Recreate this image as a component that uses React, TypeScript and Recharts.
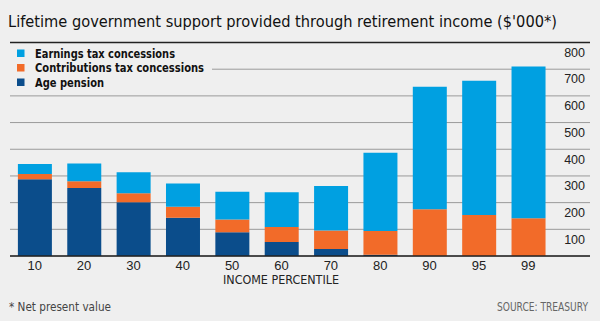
import React from "react";
import { BarChart, Bar, XAxis, YAxis, CartesianGrid, ReferenceLine } from "recharts";

const percentiles = ["10", "20", "30", "40", "50", "60", "70", "80", "90", "95", "99"];
const agePension = [288, 255, 201, 143, 89, 52, 26, 5, 0, 0, 0];
const contributionsTax = [19, 25, 34, 42, 48, 57, 70, 89, 175, 154, 141];
const earningsTax = [38, 67, 79, 87, 104, 130, 166, 293, 459, 503, 569];
const yTicks = [100, 200, 300, 400, 500, 600, 700, 800];

const series = [
  { key: "earnings", name: "Earnings tax concessions", color: "#00a0e1", w: 140 },
  { key: "contributions", name: "Contributions tax concessions", color: "#f26b29", w: 169 },
  { key: "age", name: "Age pension", color: "#0b4d8b", w: 69 },
];

const data = percentiles.map((p, i) => ({
  p,
  age: agePension[i],
  contributions: contributionsTax[i],
  earnings: earningsTax[i],
}));

const BG = "#efefef";
const FONT = "'DejaVu Sans Condensed', 'Liberation Sans', Arial, sans-serif";
const TICKFONT = "'Liberation Sans', Arial, sans-serif";

const YTick = (props: any) => {
  const { x, y, payload } = props;
  return (
    <text x={x} y={y + 11} textAnchor="end" dominantBaseline="middle" fontSize={12.5} fill="#222" fontFamily={TICKFONT}>
      {payload.value}
    </text>
  );
};

export default function App() {
  const stackOrder = ["age", "contributions", "earnings"];
  return (
    <div style={{ position: "absolute", left: 0, top: 0, width: 600, height: 321, background: BG, overflow: "hidden" }}>
      <BarChart
        width={600}
        height={321}
        data={data}
        margin={{ top: 42.5, right: 10, left: 10, bottom: 35 }}
        barCategoryGap="16%"
        style={{ position: "absolute", left: 0, top: 0 }}
      >
        <CartesianGrid horizontal vertical={false} stroke="#9a9a9a" strokeWidth={1} />
        <XAxis
          dataKey="p"
          height={30}
          padding={{ left: 0, right: 37 }}
          tickLine={false}
          tickSize={0}
          tickMargin={5}
          axisLine={{ stroke: "#222", strokeWidth: 1.5 }}
          tick={{ fontSize: 13, fill: "#222", fontFamily: TICKFONT }}
          interval={0}
        />
        <YAxis
          orientation="right"
          mirror
          width={40}
          domain={[0, 800]}
          ticks={yTicks}
          tickLine={false}
          tickSize={0}
          tickMargin={5}
          axisLine={false}
          tick={(p: any) => <YTick {...p} />}
        />
        <ReferenceLine y={800} stroke="#222" strokeWidth={1.5} />
        {stackOrder.map((k) => {
          const s = series.find((x) => x.key === k)!;
          return <Bar key={k} dataKey={k} name={s.name} stackId="a" fill={s.color} isAnimationActive={false} />;
        })}
      </BarChart>
      <svg width={600} height={321} style={{ position: "absolute", left: 0, top: 0 }}>
        <text x={8} y={27} fontSize={16.5} fill="#111" fontFamily={FONT} textLength={549} lengthAdjust="spacingAndGlyphs">
          Lifetime government support provided through retirement income ($'000*)
        </text>
        <rect x={10} y={44} width={202} height={50} fill={BG} />
        {series.map((s, i) => (
          <g key={s.key}>
            <rect x={17} y={49.5 + i * 14.5} width={7.5} height={7.5} fill={s.color} />
            <text x={35} y={57.5 + i * 14.5} fontSize={12.5} fontWeight={700} fill="#111" fontFamily={FONT} textLength={s.w} lengthAdjust="spacingAndGlyphs">
              {s.name}
            </text>
          </g>
        ))}
        <text x={223} y={284} fontSize={13} fill="#222" fontFamily={FONT} textLength={116} lengthAdjust="spacingAndGlyphs">
          INCOME PERCENTILE
        </text>
        <text x={9} y={311} fontSize={12.5} fill="#444" fontFamily={FONT} textLength={102} lengthAdjust="spacingAndGlyphs">
          * Net present value
        </text>
        <text x={497} y={311} fontSize={11.5} fill="#666" fontFamily={FONT} textLength={91} lengthAdjust="spacingAndGlyphs">
          SOURCE: TREASURY
        </text>
      </svg>
    </div>
  );
}
